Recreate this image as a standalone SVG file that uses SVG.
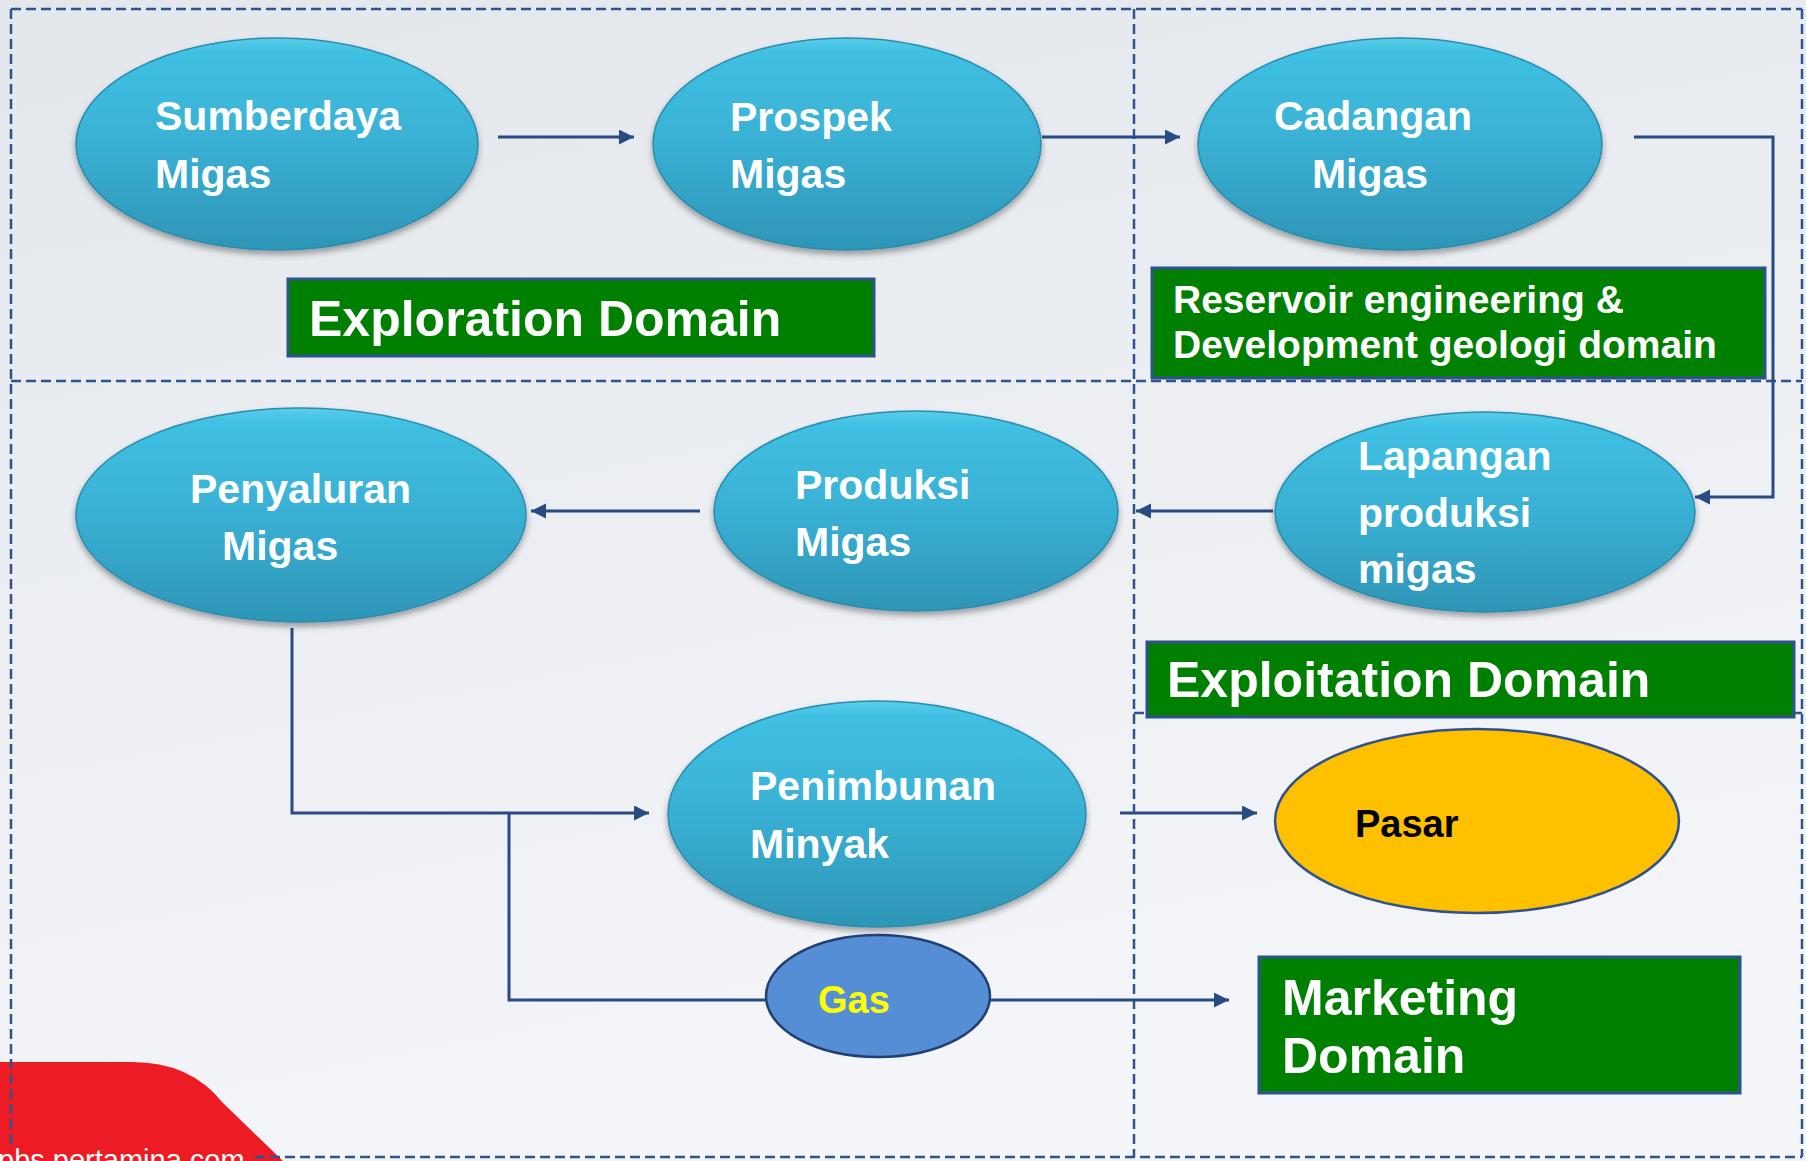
<svg xmlns="http://www.w3.org/2000/svg" width="1806" height="1161" viewBox="0 0 1806 1161">
<defs>
<linearGradient id="bg" x1="0" y1="0" x2="0.3" y2="1">
<stop offset="0" stop-color="#E3E7EC"/>
<stop offset="1" stop-color="#F4F5F8"/>
</linearGradient>
<linearGradient id="blue" x1="0" y1="0" x2="0" y2="1">
<stop offset="0" stop-color="#5ACDEB"/>
<stop offset="0.07" stop-color="#3FC0E2"/>
<stop offset="0.5" stop-color="#39B0D4"/>
<stop offset="1" stop-color="#2E95B6"/>
</linearGradient>
<filter id="sh" x="-10%" y="-10%" width="120%" height="130%">
<feDropShadow dx="0" dy="4" stdDeviation="3" flood-color="#000" flood-opacity="0.35"/>
</filter>
<marker id="arr" markerUnits="userSpaceOnUse" markerWidth="16" markerHeight="16" refX="15" refY="7.5" orient="auto">
<path d="M0,0 L15,7.5 L0,15 Z" fill="#274B82"/>
</marker>
<style>
.dash{fill:none;stroke:#2E5490;stroke-width:2.5;stroke-dasharray:10 5}
.con{fill:none;stroke:#274B82;stroke-width:3}
.arw{marker-end:url(#arr)}
.node{fill:url(#blue);stroke:#2A8CAE;stroke-width:1.5;filter:url(#sh)}
.lbl{font-family:"Liberation Sans",Arial,sans-serif;font-weight:bold;font-size:41px;fill:#FFFFFF}
.box{fill:#008000;stroke:#2F528F;stroke-width:3}
.dom{font-family:"Liberation Sans",Arial,sans-serif;font-weight:bold;font-size:50px;fill:#FFFFFF}
</style>
</defs>
<rect width="1806" height="1161" fill="url(#bg)"/>
<path d="M0,1161 L0,1062 L132,1062 Q190,1062 222,1102 L283,1161 Z" fill="#ED1C24"/>
<g id="domains">
<path class="dash" d="M11,9 H1802 M11,9 V1148 M1802,9 V1157 M1134,9 V1157 M11,381 H1802 M1134,713 H1802 M255,1157 H1802"/>
</g>
<g id="connectors">
<path class="con arw" d="M498,137 H634"/>
<path class="con arw" d="M1042,137 H1180"/>
<path class="con arw" d="M1634,137 H1773 V497 H1695"/>
<path class="con arw" d="M1273,511 H1136"/>
<path class="con arw" d="M700,511 H531"/>
<path class="con arw" d="M292,628 V813 H649"/>
<path class="con" d="M509,813 V1000 H765"/>
<path class="con arw" d="M990,1000 H1229"/>
<path class="con arw" d="M1120,813 H1257"/>
</g>
<g id="sumberdaya">
<ellipse class="node" cx="277" cy="144" rx="201" ry="106"/>
<text class="lbl" x="155" y="130">Sumberdaya</text>
<text class="lbl" x="155" y="188">Migas</text>
</g>
<g id="prospek">
<ellipse class="node" cx="847" cy="144" rx="194" ry="106"/>
<text class="lbl" x="730" y="131">Prospek</text>
<text class="lbl" x="730" y="188">Migas</text>
</g>
<g id="cadangan">
<ellipse class="node" cx="1400" cy="144" rx="202" ry="106"/>
<text class="lbl" x="1373" y="130" text-anchor="middle">Cadangan</text>
<text class="lbl" x="1370" y="188" text-anchor="middle">Migas</text>
</g>
<g id="exploration-domain">
<rect class="box" x="288" y="279" width="586" height="77"/>
<text class="dom" x="309" y="336">Exploration Domain</text>
</g>
<g id="reservoir-domain">
<rect class="box" x="1152" y="268" width="613" height="110"/>
<text class="dom" x="1173" y="313" style="font-size:39px">Reservoir engineering &amp;</text>
<text class="dom" x="1173" y="358" style="font-size:39px">Development geologi domain</text>
</g>
<g id="penyaluran">
<ellipse class="node" cx="301" cy="515" rx="225" ry="107"/>
<text class="lbl" x="190" y="503">Penyaluran</text>
<text class="lbl" x="222" y="560">Migas</text>
</g>
<g id="produksi">
<ellipse class="node" cx="916" cy="511" rx="202" ry="100"/>
<text class="lbl" x="795" y="499">Produksi</text>
<text class="lbl" x="795" y="556">Migas</text>
</g>
<g id="lapangan">
<ellipse class="node" cx="1485" cy="512" rx="210" ry="100"/>
<text class="lbl" x="1358" y="470">Lapangan</text>
<text class="lbl" x="1358" y="527">produksi</text>
<text class="lbl" x="1358" y="583">migas</text>
</g>
<g id="exploitation-domain">
<rect class="box" x="1147" y="642" width="647" height="75"/>
<text class="dom" x="1167" y="697">Exploitation Domain</text>
</g>
<g id="penimbunan">
<ellipse class="node" cx="877" cy="814" rx="209" ry="113"/>
<text class="lbl" x="750" y="800">Penimbunan</text>
<text class="lbl" x="750" y="858">Minyak</text>
</g>
<g id="pasar">
<ellipse cx="1477" cy="821" rx="202" ry="92" fill="#FFC000" stroke="#2F528F" stroke-width="2.5"/>
<text class="lbl" x="1355" y="837" style="font-size:38px;fill:#000000">Pasar</text>
</g>
<g id="gas">
<ellipse cx="878" cy="996" rx="112" ry="61" fill="#558ED5" stroke="#203F73" stroke-width="2.5"/>
<text class="lbl" x="818" y="1013" style="font-size:38px;fill:#FFFF00">Gas</text>
</g>
<g id="marketing-domain">
<rect class="box" x="1259" y="957" width="481" height="136"/>
<text class="dom" x="1282" y="1015">Marketing</text>
<text class="dom" x="1282" y="1073">Domain</text>
</g>
<text x="-2" y="1170" font-family="'Liberation Sans',Arial,sans-serif" font-size="29" fill="#FFFFFF">pbs.pertamina.com</text>
</svg>
